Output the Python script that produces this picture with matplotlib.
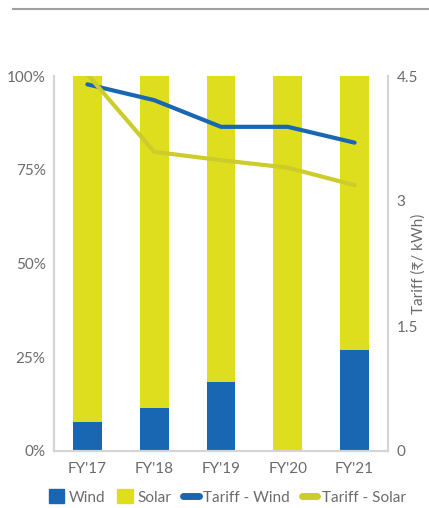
import matplotlib.pyplot as plt
from matplotlib.lines import Line2D
from matplotlib.patches import Patch

plt.rcParams['font.family'] = ['Lato', 'DejaVu Sans']

years = ["FY'17", "FY'18", "FY'19", "FY'20", "FY'21"]
wind_share = [7.8, 11.5, 18.4, 0.0, 27.0]          # % of capacity added
solar_share = [100 - w for w in wind_share]
tariff_wind = [4.40, 4.21, 3.89, 3.89, 3.70]        # Rs / kWh
tariff_solar = [4.52, 3.59, 3.49, 3.40, 3.19]

blue = '#1967b3'
yellow = '#dede1e'
yellow_line = '#cccc2a'
grey_text = '#6b6b6b'
axis_grey = '#d4d4d4'

fig = plt.figure(figsize=(4.29, 5.08), dpi=100)
ax = fig.add_axes([54 / 429, 57 / 508, 334 / 429, 375 / 508])

x = list(range(len(years)))
ax.bar(x, wind_share, width=0.43, color=blue, zorder=2)
ax.bar(x, solar_share, width=0.43, bottom=wind_share, color=yellow, zorder=2)
ax.set_xlim(-0.5, len(years) - 0.5)
ax.set_ylim(0, 100)
ax.set_yticks([0, 25, 50, 75, 100])
ax.set_yticklabels(['0%', '25%', '50%', '75%', '100%'])
ax.set_xticks(x)
ax.set_xticklabels(years)

ax2 = ax.twinx()
ax2.plot(x, tariff_wind, color=blue, lw=3, solid_capstyle='round', zorder=3)
ax2.plot(x, tariff_solar, color=yellow_line, lw=3, solid_capstyle='round', zorder=3)
ax2.set_ylim(0, 4.5)
ax2.set_yticks([0, 1.5, 3, 4.5])
ax2.set_yticklabels(['0', '1.5', '3', '4.5'])
ax2.set_ylabel('Tariff (₹/ kWh)', color=grey_text, fontsize=11,
               family=['Lato', 'DejaVu Sans'])
ax2.yaxis.set_label_coords(1.07, 0.5)

for a in (ax, ax2):
    a.spines['top'].set_visible(False)
    for s in ('left', 'right', 'bottom'):
        a.spines[s].set_color(axis_grey)
        a.spines[s].set_linewidth(1.5)
    a.tick_params(length=0, labelsize=11, labelcolor=grey_text, pad=6)

ax.tick_params(axis='x', pad=8)

# thin rule across the top of the figure
fig.add_artist(Line2D([13 / 429, 1.0], [1 - 9 / 508, 1 - 9 / 508],
                      color='#a0a0a0', lw=1.5))

handles = [
    Patch(color=blue, label='Wind'),
    Patch(color=yellow, label='Solar'),
    Line2D([0], [0], color=blue, lw=5, solid_capstyle='round', label='Tariff - Wind'),
    Line2D([0], [0], color=yellow_line, lw=5, solid_capstyle='round', label='Tariff - Solar'),
]
fig.legend(handles=handles, loc='center', bbox_to_anchor=(0.53, 1 - 497 / 508),
           ncol=4, frameon=False, fontsize=11, labelcolor=grey_text,
           handlelength=1.0, handletextpad=0.3, columnspacing=0.8,
           handleheight=1.0)

fig.savefig('out.png', dpi=100)
